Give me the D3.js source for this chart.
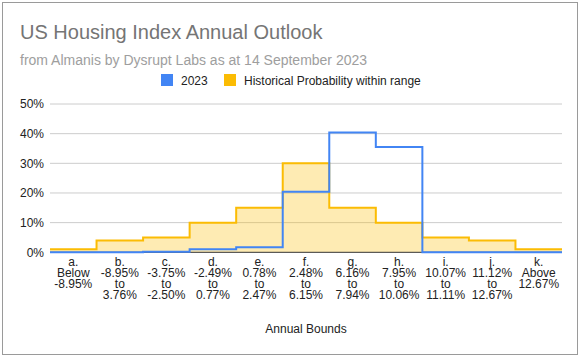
<!DOCTYPE html>
<html><head><meta charset="utf-8">
<script src="https://cdn.jsdelivr.net/npm/d3@7"></script>
<style>body{margin:0;background:#fff}svg{display:block}text{font-family:"Liberation Sans",Arial,sans-serif}</style>
</head><body><svg id="c" width="582" height="358"></svg>
<script>
const categories = ["a.","b.","c.","d.","e.","f.","g.","h.","i.","j.","k."];
const categoryLabels = [
  ["a.","Below","-8.95%"],
  ["b.","-8.95%","to","3.76%"],
  ["c.","-3.75%","to","-2.50%"],
  ["d.","-2.49%","to","0.77%"],
  ["e.","0.78%","to","2.47%"],
  ["f.","2.48%","to","6.15%"],
  ["g.","6.16%","to","7.94%"],
  ["h.","7.95%","to","10.06%"],
  ["i.","10.07%","to","11.11%"],
  ["j.","11.12%","to","12.67%"],
  ["k.","Above","12.67%"]
];
const series2023 = [0, 0, 0.2, 1.0, 1.7, 20.4, 40.4, 35.5, 0, 0, 0];
const seriesHistorical = [1, 4, 5, 10, 15, 30, 15, 10, 5, 4, 1];
const yTicks = [0, 10, 20, 30, 40, 50];
const seriesNames = ["2023", "Historical Probability within range"];

const blue = "#4285F4", yellow = "#FBBC04";
const svg = d3.select("#c");
svg.append("rect").attr("x",2.5).attr("y",2.5).attr("width",575).attr("height",352)
  .attr("fill","#fff").attr("stroke","#9a9a9a");

const x = d3.scaleBand().domain(categories).range([50, 562]).paddingInner(0).paddingOuter(0);
const y = d3.scaleLinear().domain([0, 50]).range([252.3, 104]);

// grid
svg.append("g").selectAll("line").data(yTicks.filter(d=>d>0)).join("line")
  .attr("x1",50).attr("x2",562).attr("y1",d=>y(d)).attr("y2",d=>y(d))
  .attr("stroke","#cccccc").attr("stroke-width",1);
svg.append("g").selectAll("text").data(yTicks).join("text")
  .attr("x",44).attr("y",d=>y(d)+4.3).attr("text-anchor","end")
  .attr("font-size",12).attr("fill","#222").text(d=>d+"%");

function pts(vals){
  const p = vals.map((v,i)=>[x(categories[i]), v]);
  p.push([x.range()[1], vals[vals.length-1]]);
  return p;
}
const area = d3.area().curve(d3.curveStepAfter).x(d=>d[0]).y0(y(0)).y1(d=>y(d[1]));
const line = d3.line().curve(d3.curveStepAfter).x(d=>d[0]).y(d=>y(d[1]));

svg.append("path").attr("d", area(pts(seriesHistorical))).attr("fill",yellow).attr("fill-opacity",0.3);
svg.append("line").attr("x1",50).attr("x2",562).attr("y1",y(0)).attr("y2",y(0)).attr("stroke","#333");
svg.append("path").attr("d", line(pts(seriesHistorical))).attr("fill","none").attr("stroke",yellow).attr("stroke-width",2);
svg.append("path").attr("d", line(pts(series2023))).attr("fill","none").attr("stroke",blue).attr("stroke-width",2);

// x labels
const xl = svg.append("g");
categoryLabels.forEach((lines,i)=>{
  const t = xl.append("text").attr("text-anchor","middle").attr("font-size",12).attr("fill","#222");
  lines.forEach((s,j)=>{
    t.append("tspan").attr("x", x(categories[i]) + x.bandwidth()/2).attr("y", 266 + j*11).text(s);
  });
});
svg.append("text").attr("x",306).attr("y",333).attr("text-anchor","middle")
  .attr("font-size",12).attr("fill","#222").text("Annual Bounds");

// title
svg.append("text").attr("x",20).attr("y",39).attr("font-size",20).attr("fill","#757575")
  .text("US Housing Index Annual Outlook");
svg.append("text").attr("x",20).attr("y",65).attr("font-size",14).attr("fill","#9e9e9e")
  .text("from Almanis by Dysrupt Labs as at 14 September 2023");

// legend
const leg = [{n:seriesNames[0],c:blue,x:161},{n:seriesNames[1],c:yellow,x:224}];
leg.forEach(l=>{
  svg.append("rect").attr("x",l.x).attr("y",74).attr("width",12).attr("height",12).attr("fill",l.c);
  svg.append("text").attr("x",l.x+20).attr("y",84.5).attr("font-size",12).attr("fill","#222").text(l.n);
});
</script></body></html>
